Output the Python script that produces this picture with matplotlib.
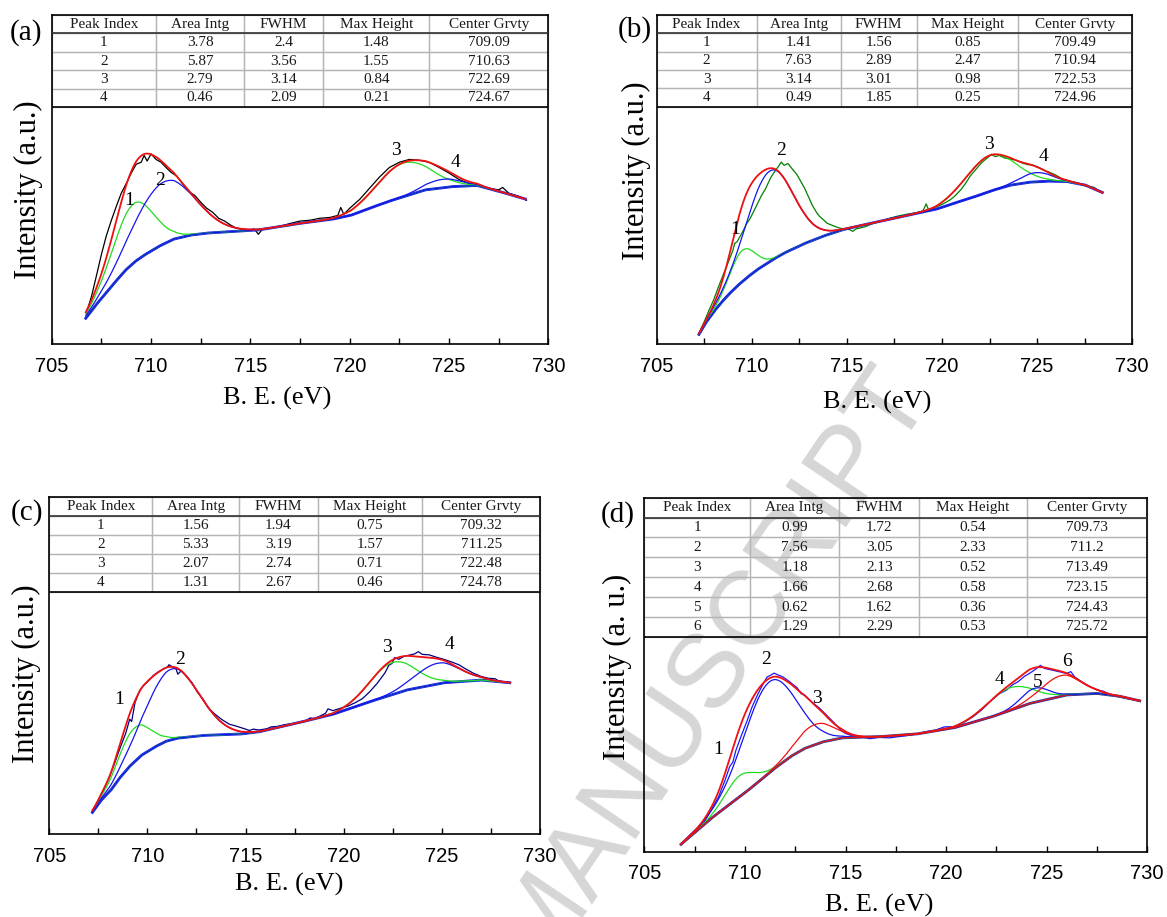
import matplotlib
matplotlib.use('Agg')
import matplotlib.pyplot as plt
import numpy as np

SERIF = ['Liberation Serif', 'DejaVu Serif']
SANS = ['Liberation Sans', 'DejaVu Sans']
plt.rcParams['font.family'] = SERIF

W, H = 1167, 917

# ---- table columns (same for every panel)
columns = ['Peak Index', 'Area Intg', 'FWHM', 'Max Height', 'Center Grvty']

# ---- (a)
a_area = [3.78, 5.87, 2.79, 0.46]
a_fwhm = [2.4, 3.56, 3.14, 2.09]
a_height = [1.48, 1.55, 0.84, 0.21]
a_center = [709.09, 710.63, 722.69, 724.67]
a_bg_e = [706.71, 707.25, 707.79, 708.3, 708.73, 709.2, 709.66, 710.4, 711.15, 712.0,
          712.82, 714.5, 715.43, 717.3, 719.16, 720.09, 721.0, 721.95, 722.9, 723.82,
          725.12, 726.42, 727.54, 728.85]
a_bg_i = [0.65, 1.0, 1.32, 1.62, 1.86, 2.07, 2.23, 2.45, 2.63, 2.73,
          2.78, 2.83, 2.86, 3.01, 3.13, 3.23, 3.4, 3.57, 3.72, 3.86,
          3.94, 3.97, 3.82, 3.63]
a_raw_e = [706.75, 707.0, 707.25, 707.5, 707.75, 708.0, 708.25, 708.5, 708.75, 709.0,
           709.25, 709.5, 709.65, 709.8, 710.0, 710.25, 710.5, 710.75, 711.0, 711.3,
           711.6, 711.9, 712.2, 712.5, 712.8, 713.1, 713.4, 713.7, 714.0, 714.3,
           714.6, 714.9, 715.2, 715.4, 715.6, 716.0, 716.5, 717.0, 717.5, 718.0,
           718.5, 719.0, 719.4, 719.55, 719.7, 720.0, 720.5, 721.0, 721.5, 722.0,
           722.5, 723.0, 723.5, 724.0, 724.5, 725.0, 725.5, 726.0, 726.5, 727.0,
           727.5, 727.7, 728.0, 728.5, 728.9]
a_raw_i = [0.80, 1.20, 1.72, 2.25, 2.72, 3.10, 3.45, 3.78, 4.02, 4.28,
           4.50, 4.55, 4.72, 4.58, 4.76, 4.62, 4.55, 4.42, 4.30, 4.20,
           4.00, 3.82, 3.72, 3.55, 3.40, 3.30, 3.15, 3.08, 2.98, 2.90,
           2.88, 2.86, 2.88, 2.75, 2.87, 2.90, 2.95, 3.02, 3.08, 3.10,
           3.15, 3.17, 3.22, 3.42, 3.25, 3.40, 3.62, 3.90, 4.18, 4.42,
           4.55, 4.62, 4.60, 4.55, 4.42, 4.28, 4.12, 4.02, 3.96, 3.90,
           3.86, 3.92, 3.78, 3.70, 3.60]

# ---- (b)
b_area = [1.41, 7.63, 3.14, 0.49]
b_fwhm = [1.56, 2.89, 3.01, 1.85]
b_height = [0.85, 2.47, 0.98, 0.25]
b_center = [709.49, 710.94, 722.53, 724.96]
b_bg_e = [707.22, 707.6, 708.05, 708.45, 708.84, 709.3, 709.82, 710.3, 710.81, 711.3,
          711.79, 712.78, 713.76, 714.74, 715.73, 716.71, 717.7, 718.68, 719.67, 720.65,
          721.63, 722.62, 723.6, 724.59, 725.57, 726.56, 727.54, 728.43]
b_bg_i = [0.27, 0.6, 0.92, 1.17, 1.39, 1.62, 1.85, 2.04, 2.21, 2.37,
          2.51, 2.75, 2.95, 3.12, 3.24, 3.35, 3.46, 3.57, 3.68, 3.85,
          4.01, 4.19, 4.34, 4.42, 4.45, 4.44, 4.34, 4.14]
b_raw_e = [707.22, 707.5, 707.76, 708.0, 708.25, 708.5, 708.74, 709.0, 709.1, 709.23,
           709.5, 709.72, 709.9, 710.22, 710.5, 710.71, 711.0, 711.2, 711.4, 711.55,
           711.7, 711.9, 712.1, 712.38, 712.6, 712.78, 713.0, 713.17, 713.4, 713.56,
           713.8, 713.96, 714.2, 714.55, 714.85, 715.14, 715.3, 715.5, 715.93, 716.3,
           716.71, 717.2, 717.7, 718.2, 718.68, 719.0, 719.17, 719.3, 719.6, 720.06,
           720.4, 720.65, 721.0, 721.24, 721.5, 721.83, 722.1, 722.42, 722.6, 722.8,
           723.01, 723.3, 723.6, 723.9, 724.19, 724.5, 724.78, 725.1, 725.37, 725.7,
           725.96, 726.3, 726.56, 727.0, 727.34, 727.7, 728.0, 728.2, 728.43]
b_raw_i = [0.30, 0.62, 0.94, 1.22, 1.57, 1.90, 2.21, 2.55, 2.75, 2.80,
           3.05, 3.28, 3.42, 3.75, 4.05, 4.23, 4.55, 4.71, 4.85, 4.97,
           4.88, 4.93, 4.80, 4.62, 4.42, 4.25, 4.00, 3.80, 3.60, 3.49,
           3.38, 3.30, 3.25, 3.18, 3.14, 3.13, 3.08, 3.15, 3.20, 3.28,
           3.35, 3.43, 3.50, 3.55, 3.59, 3.64, 3.83, 3.66, 3.72, 3.83,
           3.93, 4.03, 4.22, 4.39, 4.60, 4.80, 4.96, 5.10, 5.18, 5.12,
           5.15, 5.08, 5.05, 5.02, 4.95, 4.90, 4.89, 4.82, 4.75, 4.68,
           4.62, 4.52, 4.46, 4.42, 4.35, 4.30, 4.28, 4.20, 4.14]

# ---- (c)
c_area = [1.56, 5.33, 2.07, 1.31]
c_fwhm = [1.94, 3.19, 2.74, 2.67]
c_height = [0.75, 1.57, 0.71, 0.46]
c_center = [709.32, 711.25, 722.48, 724.78]
c_bg_e = [707.2, 707.65, 708.15, 708.6, 709.09, 709.7, 710.41, 710.95, 711.54, 712.86,
          714.74, 715.68, 717.57, 719.45, 721.33, 723.22, 725.1, 726.99, 728.46]
c_bg_i = [0.48, 0.75, 0.98, 1.25, 1.50, 1.75, 1.94, 2.06, 2.13, 2.19,
          2.22, 2.27, 2.46, 2.66, 2.94, 3.20, 3.36, 3.42, 3.36]
c_raw_e = [707.2, 707.5, 707.77, 708.05, 708.33, 708.6, 708.9, 709.1, 709.2, 709.37,
           709.6, 709.8, 710.03, 710.3, 710.55, 710.78, 711.0, 711.1, 711.25, 711.45,
           711.55, 711.73, 712.0, 712.29, 712.55, 712.86, 713.1, 713.42, 713.8, 714.17,
           714.5, 714.93, 715.2, 715.4, 715.68, 716.1, 716.3, 716.62, 717.0, 717.57,
           718.0, 718.3, 718.51, 719.07, 719.2, 719.45, 719.8, 720.2, 720.6, 720.96,
           721.3, 721.71, 722.1, 722.3, 722.46, 722.6, 722.8, 723.03, 723.3, 723.6,
           723.8, 724.0, 724.35, 724.7, 725.1, 725.5, 725.86, 726.2, 726.61, 727.0,
           727.36, 727.7, 727.9, 728.2, 728.46]
c_raw_i = [0.50, 0.75, 0.98, 1.25, 1.57, 1.90, 2.24, 2.55, 2.50, 2.92,
           3.18, 3.30, 3.39, 3.52, 3.60, 3.66, 3.70, 3.76, 3.72, 3.68,
           3.55, 3.63, 3.50, 3.35, 3.15, 2.98, 2.80, 2.67, 2.54, 2.44,
           2.40, 2.34, 2.30, 2.33, 2.31, 2.34, 2.38, 2.39, 2.43, 2.46,
           2.50, 2.58, 2.56, 2.68, 2.78, 2.74, 2.79, 2.84, 2.92, 3.01,
           3.15, 3.35, 3.58, 3.75, 3.79, 3.92, 3.88, 3.94, 3.97, 4.00,
           4.05, 3.99, 3.98, 3.93, 3.88, 3.82, 3.76, 3.67, 3.57, 3.50,
           3.46, 3.45, 3.40, 3.38, 3.36]

# ---- (d)
d_area = [0.99, 7.56, 1.18, 1.66, 0.62, 1.29]
d_fwhm = [1.72, 3.05, 2.13, 2.68, 1.62, 2.29]
d_height = [0.54, 2.33, 0.52, 0.58, 0.36, 0.53]
d_center = [709.73, 711.2, 713.49, 723.15, 724.43, 725.72]
d_bg_e = [706.82, 708.31, 710.17, 711.48, 712.3, 712.97, 713.9, 714.83, 716.69, 718.55,
          720.41, 722.27, 724.14, 726.0, 727.49, 728.6, 729.63]
d_bg_i = [0.19, 0.85, 1.58, 2.14, 2.45, 2.65, 2.82, 2.92, 2.95, 3.02,
          3.18, 3.46, 3.80, 4.02, 4.06, 3.99, 3.87]
d_raw_e = [706.82, 707.2, 707.5, 707.94, 708.3, 708.69, 709.0, 709.24, 709.4, 709.55,
           709.8, 710.1, 710.36, 710.65, 710.92, 711.1, 711.29, 711.45, 711.66, 711.9,
           712.22, 712.6, 712.8, 712.97, 713.3, 713.71, 714.1, 714.46, 714.8, 715.01,
           715.4, 715.76, 716.2, 716.69, 717.2, 717.62, 718.1, 718.55, 719.0, 719.48,
           719.9, 720.41, 720.9, 721.34, 721.8, 722.27, 722.65, 723.02, 723.3, 723.58,
           723.9, 724.14, 724.45, 724.69, 724.9, 725.25, 725.6, 726.0, 726.2, 726.4,
           726.74, 727.1, 727.49, 727.8, 728.23, 728.6, 728.98, 729.3, 729.63]
d_raw_i = [0.19, 0.40, 0.55, 0.73, 1.05, 1.41, 1.82, 2.18, 2.30, 2.60,
           2.95, 3.35, 3.72, 4.05, 4.32, 4.48, 4.53, 4.58, 4.53, 4.48,
           4.36, 4.20, 4.05, 4.02, 3.85, 3.68, 3.48, 3.29, 3.10, 3.03,
           2.96, 2.95, 2.90, 2.93, 2.92, 2.95, 2.98, 3.02, 3.08, 3.12,
           3.20, 3.21, 3.32, 3.46, 3.65, 3.89, 4.05, 4.15, 4.28, 4.36,
           4.50, 4.57, 4.68, 4.78, 4.70, 4.66, 4.62, 4.57, 4.62, 4.48,
           4.36, 4.25, 4.15, 4.12, 4.02, 3.97, 3.93, 3.90, 3.87]

GREEN, BLUE, RED = '#1fdc1f', '#1414f0', '#f01010'

panels = [
    dict(tag='(a)', area=a_area, fwhm=a_fwhm, height=a_height, center=a_center,
         bg_e=a_bg_e, bg_i=a_bg_i, raw_e=a_raw_e, raw_i=a_raw_i,
         raw_color='black', bg_color=BLUE, comp=[GREEN, BLUE, GREEN, BLUE],
         ylabel='Intensity (a.u.)', ymax=8.23, tab_y0=0.72,
         box=(51.8, 15, 548.3, 344.3), tag_xy=(26, 33), ylab_xy=(28, 190), xlab_xy=(277, 398),
         peak_lbl=[(708.9, 3.6), (710.45, 4.1), (722.35, 4.85), (725.35, 4.55)]),
    dict(tag='(b)', area=b_area, fwhm=b_fwhm, height=b_height, center=b_center,
         bg_e=b_bg_e, bg_i=b_bg_i, raw_e=b_raw_e, raw_i=b_raw_i,
         raw_color='#008000', bg_color=BLUE, comp=[GREEN, BLUE, GREEN, BLUE],
         ylabel='Intensity (a.u.)', ymax=8.98, tab_y0=0.722,
         box=(656.7, 15, 1132.2, 344.3), tag_xy=(635, 30), ylab_xy=(636, 171), xlab_xy=(877, 402),
         peak_lbl=[(709.13, 3.12), (711.56, 5.28), (722.48, 5.46), (725.33, 5.12)]),
    dict(tag='(c)', area=c_area, fwhm=c_fwhm, height=c_height, center=c_center,
         bg_e=c_bg_e, bg_i=c_bg_i, raw_e=c_raw_e, raw_i=c_raw_i,
         raw_color='#00007f', bg_color=BLUE, comp=[GREEN, BLUE, GREEN, BLUE],
         ylabel='Intensity (a.u.)', ymax=7.48, tab_y0=0.718,
         box=(49.2, 497.3, 540.1, 834), tag_xy=(27, 513), ylab_xy=(26, 674), xlab_xy=(289, 884),
         peak_lbl=[(708.58, 2.99), (711.67, 3.87), (722.18, 4.15), (725.38, 4.21)]),
    dict(tag='(d)', area=d_area, fwhm=d_fwhm, height=d_height, center=d_center,
         bg_e=d_bg_e, bg_i=d_bg_i, raw_e=d_raw_e, raw_i=d_raw_i,
         raw_color='#1a1aff', bg_color='#2a2a9a', comp=[GREEN, BLUE, RED, GREEN, BLUE, RED],
         ylabel='Intensity (a. u.)', ymax=9.08, tab_y0=0.607,
         box=(644.4, 497.7, 1147.2, 851.7), tag_xy=(618, 515), ylab_xy=(617, 667), xlab_xy=(879, 905),
         peak_lbl=[(708.69, 2.62), (711.07, 4.93), (713.58, 3.93), (722.65, 4.42),
                   (724.55, 4.33), (726.0, 4.89)]),
]


def gauss(x, h, c, w):
    return h * np.exp(-4 * np.log(2) * (x - c) ** 2 / w ** 2)


fig = plt.figure(figsize=(W / 100, H / 100), dpi=100)

# watermark behind everything
fig.text(712 / W, 1 - 665 / H, 'MANUSCRIPT', rotation=56, rotation_mode='anchor',
         ha='center', va='center', fontsize=76, color='#d6d6d6', family=SANS, zorder=-1)

for p in panels:
    x0, y0, x1, y1 = p['box']
    ax = fig.add_axes([x0 / W, 1 - y1 / H, (x1 - x0) / W, (y1 - y0) / H])
    ax.set_facecolor('none')

    e = np.linspace(p['bg_e'][0], p['bg_e'][-1], 600)
    bg = np.interp(e, p['bg_e'], p['bg_i'])
    env = bg.copy()

    ax.plot(p['raw_e'], p['raw_i'], color=p['raw_color'], lw=0.9, zorder=2)
    ax.plot(e, bg, color=p['bg_color'], lw=2.0, zorder=3)
    for h, c, w, col in zip(p['height'], p['center'], p['fwhm'], p['comp']):
        g = gauss(e, h, c, w)
        env += g
        ax.plot(e, bg + g, color=col, lw=0.9, zorder=3)
    ax.plot(e, env, color=RED, lw=1.3, zorder=4)

    for k, (lx, ly) in enumerate(p['peak_lbl']):
        ax.text(lx, ly, str(k + 1), ha='center', va='center', fontsize=14, zorder=5)

    ax.set_xlim(705, 730)
    ax.set_ylim(0, p['ymax'])
    ax.set_xticks(range(705, 731, 5))
    ax.set_xticks(np.arange(707.5, 730, 5), minor=True)
    ax.set_yticks([])
    ax.tick_params(axis='x', which='both', direction='in', length=4, width=1, pad=9,
                   labelsize=14.5)
    for t in ax.get_xticklabels():
        t.set_family(SANS)
    for s in ax.spines.values():
        s.set_linewidth(1.2)

    # fit results table on top of the frame
    ty = p['tab_y0']
    rows = [[str(i + 1), str(a), str(f), str(h), str(c)]
            for i, (a, f, h, c) in enumerate(zip(p['area'], p['fwhm'], p['height'], p['center']))]
    tab = ax.table(cellText=rows, colLabels=columns, cellLoc='center',
                   colWidths=[0.21, 0.177, 0.16, 0.213, 0.24],
                   bbox=[0, ty, 1, 1 - ty])
    tab.set_zorder(1)
    tab.auto_set_font_size(False)
    tab.set_fontsize(11)
    for cell in tab.get_celld().values():
        cell.set_edgecolor('#b5b5b5')
        cell.set_linewidth(0.9)
        cell.set_facecolor('none')
        cell.get_text().set_family(SERIF)
        cell.get_text().set_color('#1a1a1a')
    nrow = len(rows) + 1
    hy = ty + (1 - ty) * (nrow - 1) / nrow
    ax.plot([0, 1], [hy, hy], transform=ax.transAxes, color='#333333', lw=1.2, zorder=6)
    ax.plot([0, 1], [ty, ty], transform=ax.transAxes, color='black', lw=1.2, zorder=6)

    fig.text(p['tag_xy'][0] / W, 1 - p['tag_xy'][1] / H, p['tag'], fontsize=21,
             ha='center', va='center')
    fig.text(p['ylab_xy'][0] / W, 1 - p['ylab_xy'][1] / H, p['ylabel'], fontsize=22,
             rotation=90, ha='center', va='center')
    fig.text(p['xlab_xy'][0] / W, 1 - p['xlab_xy'][1] / H, 'B. E. (eV)', fontsize=19,
             ha='center', va='center')

fig.savefig('out.png', dpi=100)
